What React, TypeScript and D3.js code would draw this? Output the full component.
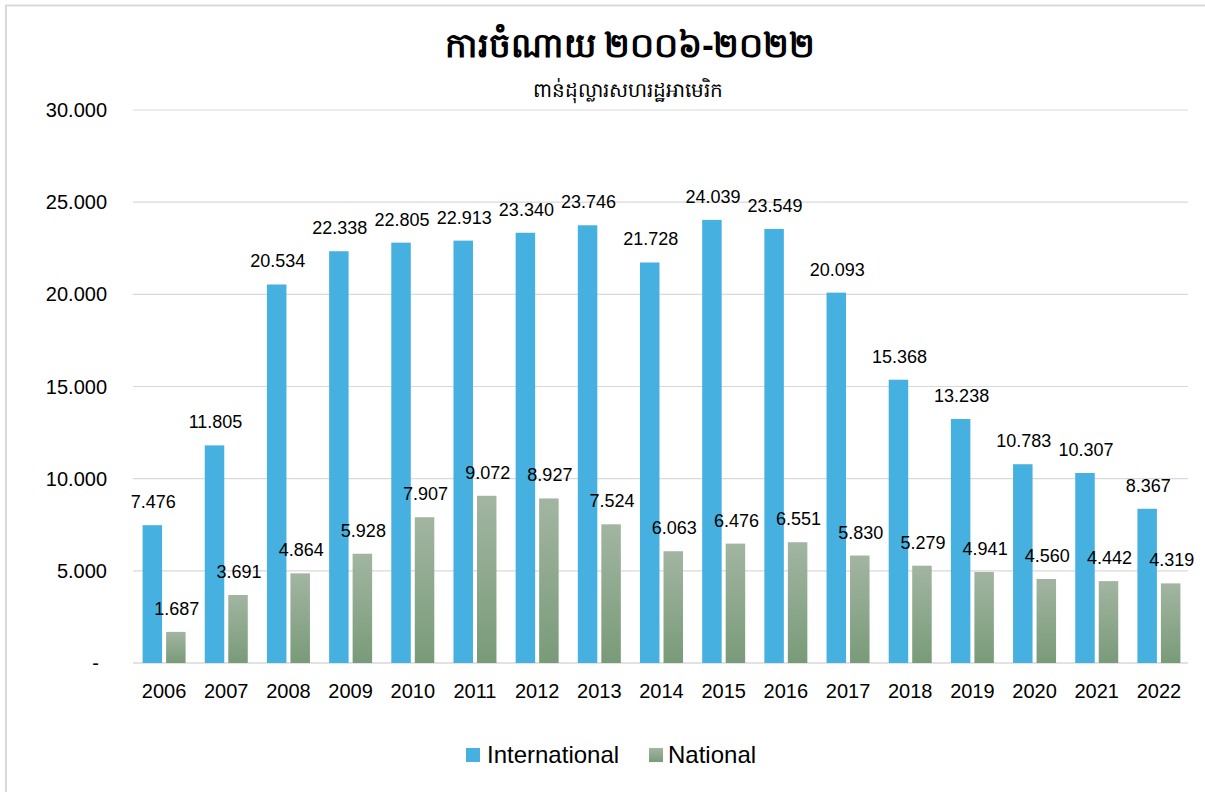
import React from "react";
import * as d3 from "d3";

const years = ["2006","2007","2008","2009","2010","2011","2012","2013","2014","2015","2016","2017","2018","2019","2020","2021","2022"];
const international = [7476,11805,20534,22338,22805,22913,23340,23746,21728,24039,23549,20093,15368,13238,10783,10307,8367];
const national = [1687,3691,4864,5928,7907,9072,8927,7524,6063,6476,6551,5830,5279,4941,4560,4442,4319];
const yTicks = [0,5000,10000,15000,20000,25000,30000];
const seriesNames = ["International","National"];
const title = "ការចំណាយ ២០០៦-២០២២";
const subtitle = "ពាន់ដុល្លារសហរដ្ឋអាមេរិក";

const W = 1205, H = 792;
const left = 133, right = 1190, top = 110, bottom = 663;
const FONT = "'Liberation Sans', Arial, sans-serif";

const fmt = (v: number) => {
  if (v === 0) return "-";
  return d3.format(",.0f")(v).replace(/,/g, ".");
};
const fmtVal = (v: number) => (v / 1000).toFixed(3);

export default function App() {
  const x = d3.scaleBand<string>().domain(years).range([left, right]).paddingInner(0).paddingOuter(0);
  const y = d3.scaleLinear().domain([0, 30000]).range([bottom, top]);
  const bw = 19.5;
  const gap = 4;
  const groupW = bw * 2 + gap;
  const off = (x.bandwidth() - groupW) / 2;

  return (
    <svg width={W} height={H} style={{ position: "absolute", left: 0, top: 0, background: "#fff" }} fontFamily={FONT}>
      <defs>
        <linearGradient id="natGrad" x1="0" y1="0" x2="0" y2="1">
          <stop offset="0" stopColor="#a2b5a1" />
          <stop offset="1" stopColor="#799b79" />
        </linearGradient>
      </defs>
      <rect x={0} y={0} width={W} height={H} fill="#fff" />
      <rect x={6} y={5.5} width={W + 20} height={H + 20} fill="none" stroke="#d9d9d9" strokeWidth={2} />

      <text x={630} y={57} textAnchor="middle" fontSize={34} fontWeight="bold" fill="#000" fontFamily="'Noto Sans', sans-serif">{title}</text>
      <text x={628} y={97} textAnchor="middle" fontSize={20} fill="#000" fontFamily="'Noto Sans', sans-serif">{subtitle}</text>

      {yTicks.map((t) => (
        <g key={t}>
          <line x1={left} x2={right - 2} y1={y(t)} y2={y(t)} stroke="#d9d9d9" strokeWidth={t === 0 ? 1.5 : 1.2} />
          <text x={t === 0 ? 99 : 107} y={y(t) + 7} textAnchor="end" fontSize={20} fill="#000">{fmt(t)}</text>
        </g>
      ))}

      {years.map((yr, i) => {
        const x0 = (x(yr) as number) + off;
        const x1 = x0 + bw + gap;
        const vi = international[i];
        const vn = national[i];
        return (
          <g key={yr}>
            <rect x={x0} y={y(vi)} width={bw} height={bottom - y(vi)} fill="#46b1e1" />
            <rect x={x1} y={y(vn)} width={bw} height={bottom - y(vn)} fill="url(#natGrad)" />
            <text x={x0 + bw / 2 + 1} y={y(vi) - 17} textAnchor="middle" fontSize={18} fill="#000">{fmtVal(vi)}</text>
            <text x={x1 + bw / 2 + 1} y={y(vn) - 17} textAnchor="middle" fontSize={18} fill="#000">{fmtVal(vn)}</text>
            <text x={(x(yr) as number) + x.bandwidth() / 2} y={698} textAnchor="middle" fontSize={20} fill="#000">{yr}</text>
          </g>
        );
      })}

      <rect x={466} y={748} width={14} height={14} fill="#46b1e1" />
      <text x={487} y={763} fontSize={24} fill="#000">{seriesNames[0]}</text>
      <rect x={649} y={748} width={14} height={14} fill="url(#natGrad)" />
      <text x={668} y={763} fontSize={24} fill="#000">{seriesNames[1]}</text>
    </svg>
  );
}
